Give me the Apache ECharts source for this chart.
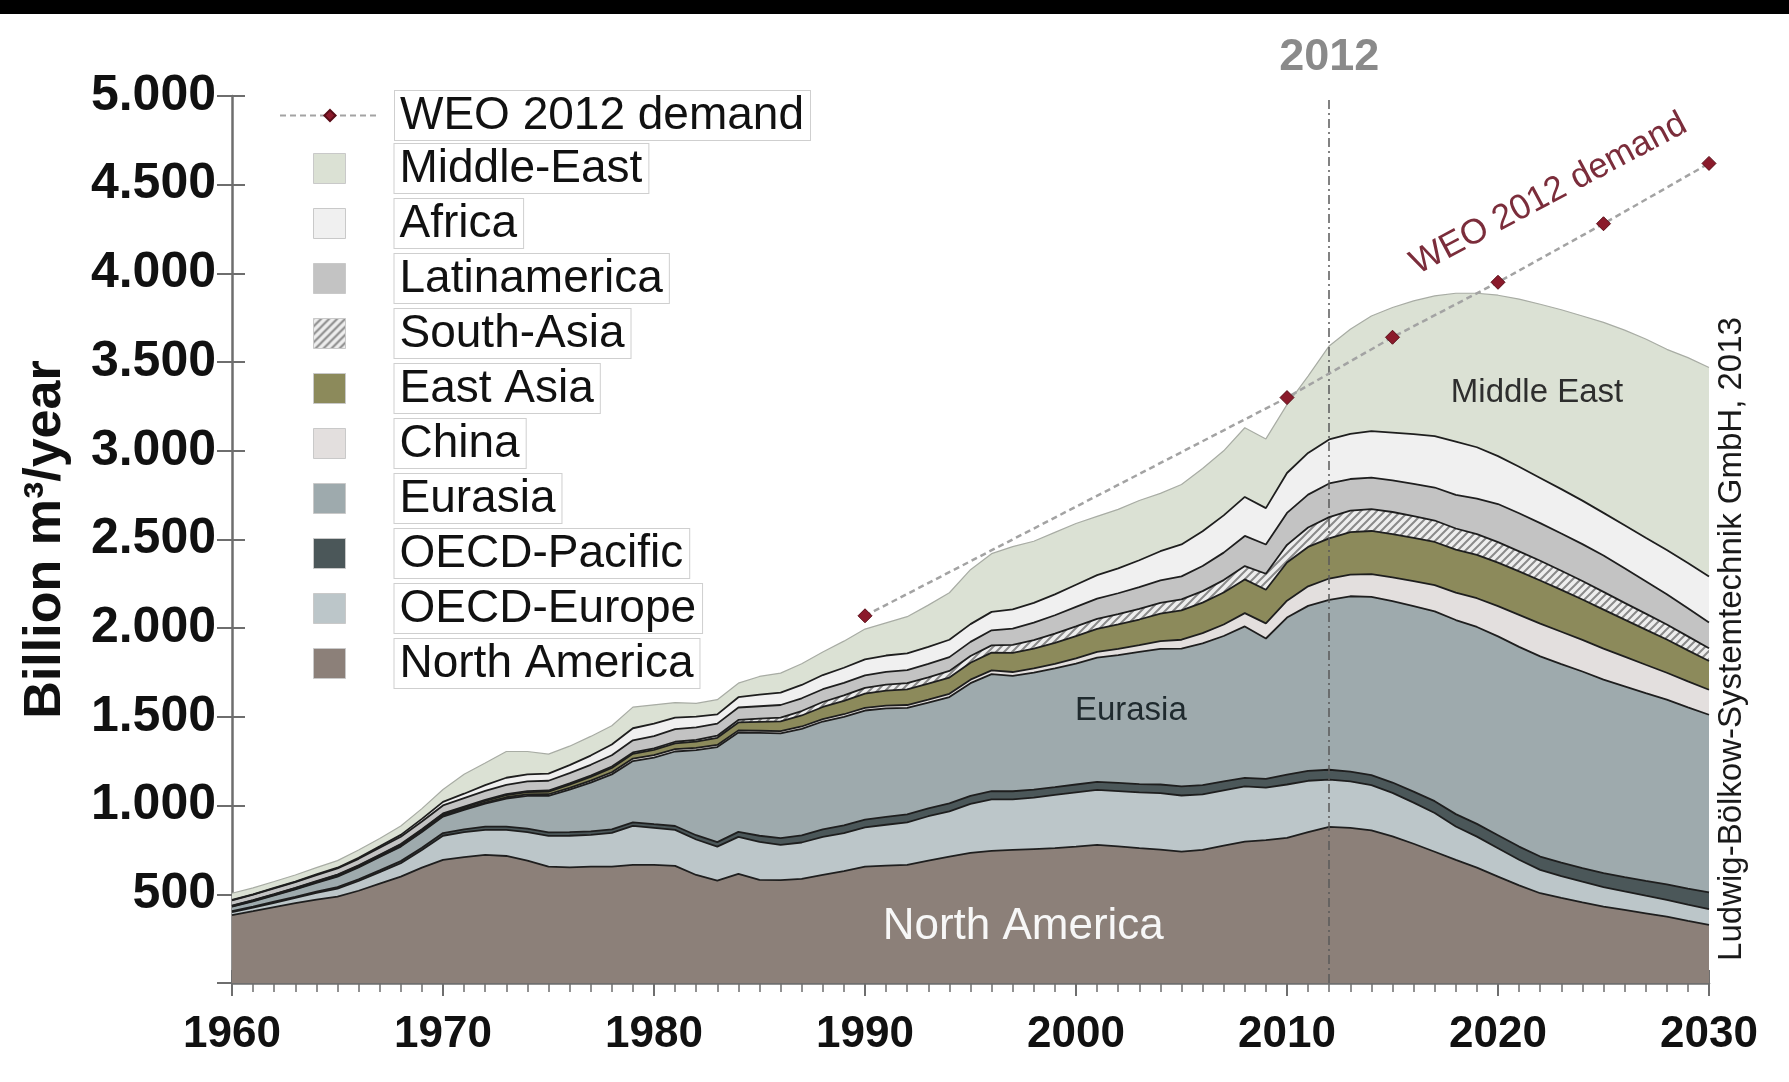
<!DOCTYPE html>
<html>
<head>
<meta charset="utf-8">
<script src="https://cdn.jsdelivr.net/npm/echarts@6/dist/echarts.min.js"></script>
<style>
html,body{margin:0;padding:0;background:#fff;}
#chart{width:1789px;height:1082px;}
</style>
</head>
<body>
<div id="chart"></div>
<script>
// ---------- data (billion m3 / year) ----------
const years = [];
for (let y = 1960; y <= 2030; y++) years.push(String(y));

const northAmerica = [383,405,428,450,470,487,520,560,600,650,
  694,710,722,716,690,656,652,656,656,666,
  666,660,609,577,615,581,580,587,609,630,
  656,662,666,690,712,733,745,750,755,760,
  769,779,770,760,752,741,750,775,797,805,
  818,850,880,875,860,826,785,740,694,650,
  600,550,506,480,455,431,412,393,374,350,327];
const oecdEurope = [17,20,24,30,38,45,55,65,75,100,
  136,140,141,147,160,173,178,179,190,220,
  209,203,200,192,209,214,199,205,215,215,
  221,230,240,250,255,277,290,285,290,300,
  306,310,312,314,318,316,313,311,311,296,
  301,290,266,261,255,246,232,218,188,175,
  160,145,132,122,116,110,104,99,95,92,90];
const oecdPacific = [5,5,6,6,7,8,9,10,12,13,
  15,16,18,19,20,20,20,20,20,20,
  20,22,24,25,28,35,38,40,42,43,
  44,44,45,45,45,45,46,46,45,44,
  44,45,46,47,49,51,52,50,48,50,
  55,56,56,56,57,58,62,67,70,72,
  73,74,75,76,77,78,81,84,87,90,94];
const eurasia = [25,30,36,42,50,60,68,75,82,88,
  93,110,130,158,185,206,240,275,310,345,
  375,420,480,536,560,580,590,600,608,612,
  615,612,600,595,600,635,660,650,660,670,
  681,700,720,745,765,777,800,820,854,791,
  886,930,958,988,1005,1022,1045,1070,1094,1110,
  1121,1126,1128,1120,1108,1091,1075,1058,1041,1022,1001];
const china = [2,3,3,3,3,4,4,4,4,5,
  5,5,6,7,8,9,10,11,12,14,
  14,13,12,12,12,12,13,14,14,15,
  15,16,16,17,18,20,21,22,23,25,
  30,32,35,38,43,50,57,65,75,85,
  95,110,120,122,128,135,142,148,155,162,
  170,180,185,182,178,175,168,160,152,146,141];
const eastAsia = [3,3,3,4,4,5,5,6,7,7,
  8,9,10,12,13,15,18,21,24,27,
  30,33,36,40,45,50,55,62,68,75,
  80,84,88,90,92,95,100,108,112,118,
  125,130,138,145,155,165,172,180,190,190,
  215,222,226,240,243,243,243,243,242,244,
  246,245,243,236,228,220,208,198,187,175,162];
const southAsia = [1,1,1,1,2,2,2,3,3,4,
  5,5,6,6,6,6,7,7,8,8,
  8,9,10,12,14,18,21,25,28,31,
  33,34,35,36,37,38,41,45,48,52,
  55,57,58,60,61,62,65,70,75,90,
  100,110,120,121,123,125,123,121,119,117,
  115,113,111,108,104,100,95,90,85,79,72];
const latinAmerica = [30,31,32,33,34,35,37,39,41,43,
  45,47,50,52,54,55,58,61,64,68,
  70,71,70,68,70,70,71,72,72,71,
  70,72,74,76,78,80,85,92,98,104,
  110,114,118,122,126,130,142,155,170,165,
  180,185,190,178,178,178,182,186,190,200,
  215,215,212,210,208,205,195,183,170,158,145];
const africa = [2,2,3,3,4,4,6,8,11,15,
  20,25,32,40,40,40,45,52,60,68,
  70,65,60,52,58,65,70,75,80,85,
  90,92,94,96,98,100,104,108,112,118,
  125,132,140,152,165,180,195,210,220,205,
  225,235,248,255,262,270,280,290,300,290,
  270,262,255,250,245,240,242,245,250,255,260];
const middleEast = [38,36,36,37,38,40,44,45,50,58,
  70,110,125,148,129,110,107,108,106,119,
  106,85,75,83,79,103,110,120,130,150,
  171,184,207,235,265,307,328,354,347,349,
  345,331,333,337,326,338,354,364,390,390,
  385,433,527,589,649,705,751,790,836,868,
  907,945,979,1011,1041,1074,1100,1120,1131,1158,1178];

const weoYears = [1990, 2010, 2015, 2020, 2025, 2030];
const weoDemand = [2070, 3300, 3640, 3950, 4280, 4620];

const yTickLabels = ['', '500', '1.000', '1.500', '2.000', '2.500', '3.000', '3.500', '4.000', '4.500', '5.000'];
const xTickLabels = ['1960', '1970', '1980', '1990', '2000', '2010', '2020', '2030'];

// ---------- styling ----------
const FONT = 'Liberation Sans, Arial, Helvetica, sans-serif';
const AX = '#6e6e6e';

const pc = document.createElement('canvas');
pc.width = 8; pc.height = 8;
const pctx = pc.getContext('2d');
pctx.fillStyle = '#eeeeee'; pctx.fillRect(0, 0, 8, 8);
pctx.strokeStyle = '#8a8a8a'; pctx.lineWidth = 2;
pctx.beginPath();
pctx.moveTo(0, 8); pctx.lineTo(8, 0);
pctx.moveTo(-2, 2); pctx.lineTo(2, -2);
pctx.moveTo(6, 10); pctx.lineTo(10, 6);
pctx.stroke();
const hatch = { image: pc, repeat: 'repeat' };

const layers = [
  { name: 'North America', data: northAmerica, color: '#8c8079' },
  { name: 'OECD-Europe', data: oecdEurope, color: '#bcc6c9' },
  { name: 'OECD-Pacific', data: oecdPacific, color: '#4b5759' },
  { name: 'Eurasia', data: eurasia, color: '#9eaaad' },
  { name: 'China', data: china, color: '#e3dfde' },
  { name: 'East Asia', data: eastAsia, color: '#8c8a5b' },
  { name: 'South-Asia', data: southAsia, color: hatch },
  { name: 'Latinamerica', data: latinAmerica, color: '#c3c3c3' },
  { name: 'Africa', data: africa, color: '#f0f0f0' },
  { name: 'Middle-East', data: middleEast, color: '#dbe1d4', line: '#a8aca4', lw: 1.2 }
];

const series = layers.map(l => ({
  name: l.name,
  type: 'line',
  stack: 'total',
  xAxisIndex: 0,
  yAxisIndex: 0,
  data: l.data,
  showSymbol: false,
  symbol: 'none',
  smooth: false,
  itemStyle: { color: l.color },
  lineStyle: { color: l.line || '#1e1e1e', width: l.lw || 1.8 },
  areaStyle: { color: l.color, opacity: 1 },
  emphasis: { disabled: true },
  z: 2
}));

series.push({
  name: 'WEO 2012 demand',
  type: 'line',
  xAxisIndex: 1,
  yAxisIndex: 0,
  data: weoYears.map((y, i) => [y, weoDemand[i]]),
  symbol: 'diamond',
  symbolSize: 14,
  itemStyle: { color: '#8b1a2b', borderColor: '#5a0d18', borderWidth: 1 },
  lineStyle: { color: '#a3a3a3', width: 2.5, type: [6, 4] },
  emphasis: { disabled: true },
  z: 5,
  markLine: {
    silent: true,
    symbol: 'none',
    animation: false,
    lineStyle: { color: '#5a5a5a', width: 1.5, type: [9, 4, 2, 4] },
    label: {
      show: true, position: 'end', formatter: '2012', distance: 16,
      fontFamily: FONT, fontSize: 45, fontWeight: 'bold', color: '#8a8a8a'
    },
    data: [{ xAxis: 2012 }]
  },
  markPoint: {
    silent: true,
    animation: false,
    symbol: 'circle',
    symbolSize: 0,
    data: [
      { coord: [2022.4, 4447], label: { show: true, position: 'inside', formatter: 'WEO 2012 demand', rotate: 28, fontFamily: FONT, fontSize: 35, color: '#7b2d3b' } },
      { coord: [2021.85, 3324], label: { show: true, position: 'inside', formatter: 'Middle East', fontFamily: FONT, fontSize: 33, color: '#2e2e2e' } },
      { coord: [2002.6, 1535], label: { show: true, position: 'inside', formatter: 'Eurasia', fontFamily: FONT, fontSize: 33, color: '#1f2a2e' } },
      { coord: [1997.5, 316], label: { show: true, position: 'inside', formatter: 'North America', fontFamily: FONT, fontSize: 44, color: '#f7f7f7' } }
    ]
  }
});

const legendRich = (gap) => ({
  g: { width: gap, fontSize: 46 },
  b: {
    fontFamily: FONT, fontSize: 46, lineHeight: 47, color: '#111',
    backgroundColor: '#ffffff', borderColor: '#cfcfcf', borderWidth: 1,
    padding: [2, 6, 1, 5]
  }
});

const areaLegendOrder = ['Middle-East', 'Africa', 'Latinamerica', 'South-Asia', 'East Asia', 'China', 'Eurasia', 'OECD-Pacific', 'OECD-Europe', 'North America'];

const option = {
  animation: false,
  backgroundColor: '#ffffff',
  textStyle: { fontFamily: FONT },
  grid: { left: 232, right: 80, top: 96, bottom: 99, containLabel: false },
  legend: [
    {
      data: ['WEO 2012 demand'],
      orient: 'vertical', left: 274, top: 85,
      itemWidth: 100, itemHeight: 14,
      selectedMode: false,
      formatter: n => '{g| }{b|' + n + '}',
      textStyle: { fontSize: 46, rich: legendRich(10) }
    },
    {
      data: areaLegendOrder.map(n => ({
        name: n, icon: 'rect',
        itemStyle: { color: layers.find(l => l.name === n).color, borderColor: '#c9c9c9', borderWidth: 1 }
      })),
      orient: 'vertical', left: 308, top: 138,
      itemWidth: 32, itemHeight: 30, itemGap: 4,
      selectedMode: false,
      formatter: n => '{g| }{b|' + n + '}',
      textStyle: { fontSize: 46, rich: legendRich(44) }
    }
  ],
  xAxis: [
    {
      type: 'category', data: years, boundaryGap: false, position: 'bottom',
      axisLine: { show: false },
      axisTick: { show: true, interval: 0, length: 9, lineStyle: { color: AX, width: 1.5 } },
      axisLabel: { show: false },
      splitLine: { show: false }
    },
    {
      type: 'value', min: 1960, max: 2030, interval: 10, position: 'bottom',
      axisLine: { show: true, onZero: false, lineStyle: { color: AX, width: 2.5 } },
      axisTick: { show: true, length: 13, lineStyle: { color: AX, width: 2 } },
      splitLine: { show: false },
      axisLabel: {
        margin: 30, fontSize: 44, fontWeight: 'bold', color: '#111', fontFamily: FONT,
        formatter: v => xTickLabels[Math.round((v - 1960) / 10)]
      }
    },
    {
      type: 'value', min: 1960, max: 2030, interval: 10, position: 'bottom',
      axisLine: { show: false },
      axisTick: { show: true, inside: true, length: 13, lineStyle: { color: AX, width: 2 } },
      splitLine: { show: false },
      axisLabel: { show: false }
    },
    {
      type: 'category', data: years, boundaryGap: false, position: 'bottom',
      axisLine: { show: false },
      axisTick: { show: true, inside: true, interval: 0, length: 4, lineStyle: { color: AX, width: 1.5 } },
      axisLabel: { show: false },
      splitLine: { show: false }
    }
  ],
  yAxis: [
    {
      type: 'value', min: 0, max: 5000, interval: 500,
      name: 'Billion m³/year', nameLocation: 'middle', nameGap: 160, nameRotate: 90,
      nameTextStyle: { fontSize: 52, fontWeight: 'bold', color: '#111', fontFamily: FONT },
      axisLine: { show: true, lineStyle: { color: AX, width: 2.5 } },
      axisTick: { show: true, length: 15, lineStyle: { color: AX, width: 2 } },
      splitLine: { show: false },
      axisLabel: {
        margin: 16, fontSize: 50, fontWeight: 'bold', color: '#111', fontFamily: FONT,
        formatter: v => yTickLabels[Math.round(v / 500)]
      }
    },
    {
      type: 'value', min: 0, max: 5000, interval: 500, position: 'left',
      axisLine: { show: false },
      axisTick: { show: true, inside: true, length: 13, lineStyle: { color: AX, width: 2 } },
      splitLine: { show: false },
      axisLabel: { show: false }
    }
  ],
  graphic: [
    { type: 'rect', left: 0, top: 0, shape: { width: 1789, height: 14 }, style: { fill: '#000' }, z: 10 },
    {
      type: 'text', x: 1732, y: 639, rotation: Math.PI / 2,
      style: {
        text: 'Ludwig-Bölkow-Systemtechnik GmbH, 2013',
        fontFamily: FONT, fontSize: 33, fill: '#1a1a1a',
        align: 'center', verticalAlign: 'middle'
      }
    }
  ],
  series: series
};

const chart = echarts.init(document.getElementById('chart'), null, { renderer: 'canvas' });
chart.setOption(option);
</script>
</body>
</html>
